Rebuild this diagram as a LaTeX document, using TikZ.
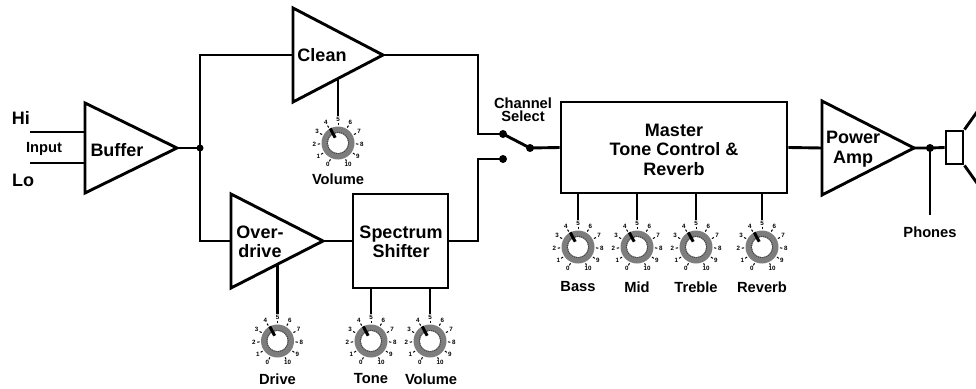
\documentclass[tikz,border=0pt]{standalone}
\usepackage{fontspec}
\setmainfont{Liberation Sans}
\definecolor{knobgray}{RGB}{125,125,125}
\begin{document}
\begin{tikzpicture}[x=1pt,y=-1pt,line width=2.9pt,
  big/.style={font=\fontsize{18}{19.5}\selectfont\bfseries,align=center,inner sep=0pt},
  small/.style={font=\fontsize{14.7}{16}\selectfont\bfseries,align=center,inner sep=0pt},
  jdot/.style={circle,fill=black,draw=none,inner sep=0pt,minimum size=8pt},
  knob/.pic={
    \begin{scope}[y=1pt]
      \fill[knobgray] (0,0) circle (16.5);
      \fill[white] (0,0) circle (10);
      \draw[black!75,line width=1pt,dash pattern=on 1pt off 1.1pt] (0,0) circle (10.7);
      \foreach \n in {0,...,10}{
        \pgfmathsetmacro\a{245-31*\n}
        \draw[line width=1pt] (\a:18) -- (\a:20.3);
        \node[font=\fontsize{6.2}{6}\selectfont\bfseries,inner sep=0pt] (-n\n) at (\a:23.8) {\n};
      }
      \draw[line width=3pt] (118:6) -- (118:16.5);
    \end{scope}
  }]
\useasboundingbox (0,0) rectangle (976,388);

% ---- key coordinates ----
\coordinate (bufL1) at (85,103); \coordinate (bufL2) at (85,193); \coordinate (bufT) at (177,148);
\coordinate (hiIn) at (85,132); \coordinate (hiEnd) at (30,132);
\coordinate (loIn) at (85,163); \coordinate (loEnd) at (30,163);
\coordinate (clL1) at (293,8); \coordinate (clL2) at (293,102); \coordinate (clT) at (383,55);
\coordinate (clIn) at (293,55);
\coordinate (odL1) at (231,194); \coordinate (odL2) at (231,288); \coordinate (odT) at (323,241);
\coordinate (odIn) at (231,241);
\coordinate (paL1) at (822,101); \coordinate (paL2) at (822,195); \coordinate (paT) at (914,148);
\coordinate (paIn) at (822,148);
\coordinate (split) at (200,148);
\coordinate (swA) at (503,134); \coordinate (swB) at (503,159); \coordinate (swC) at (530,148);
\coordinate (ph) at (930,148); \coordinate (phEnd) at (930,215);

% ---- blocks ----
\draw (bufL1) -- (bufL2) -- (bufT) -- cycle;
\draw (clL1) -- (clL2) -- (clT) -- cycle;
\draw (odL1) -- (odL2) -- (odT) -- cycle;
\draw (paL1) -- (paL2) -- (paT) -- cycle;
\node[draw,minimum width=95pt,minimum height=94pt,inner sep=0pt] (spec) at (400.5,241) {};
\node[draw,minimum width=226pt,minimum height=91pt,inner sep=0pt] (master) at (674,147.5) {};
\node[draw,minimum width=17pt,minimum height=33pt,inner sep=0pt] (spk) at (954.5,147.5) {};
\draw (spk.north east) -- ++(27,-38);
\draw (spk.south east) -- ++(27,38);

% ---- labels ----
\node[big] (tbuf) at (117,150) {Buffer};
\node[big] (tclean) at (322,55) {Clean};
\node[big] (tod) at (260,242) {Over-\\drive};
\node[big] (tspec) at (401,242) {Spectrum\\Shifter};
\node[big] (tmaster) at (674,149.5) {Master\\Tone Control \&\\Reverb};
\node[big] (tpa) at (853,149) {Power\\Amp};
\node[big] (thi) at (21,118) {Hi};
\node[big] (tlo) at (23,180) {Lo};
\node[small] (tin) at (44,149) {Input};
\node[small,font=\fontsize{14.7}{13}\selectfont\bfseries] (tcs) at (523,110) {Channel\\Select};
\node[small] (tph) at (930,232) {Phones};

% ---- wiring ----
\draw (hiEnd) -- (hiIn);
\draw (loEnd) -- (loIn);
\draw (bufT) -- (split);
\draw (clIn) -| (split) |- (odIn);
\draw (clT) -| (478,134) -- (swA);
\draw (odT) -- (spec.west);
\draw (spec.east) -| (478,159) -- (swB);
\draw (swA) -- (swC);
\draw (swC) -- (master.west);
\draw (master.east) -- (paIn);
\draw (paT) -- (ph) -- (spk.west);
\draw (ph) -- (phEnd);
\node[jdot,minimum size=7pt] (dsplit) at (split) {};
\node[jdot] (dA) at (swA) {};
\node[jdot] (dB) at (swB) {};
\node[jdot] (dC) at (swC) {};
\node[jdot] (dph) at (ph) {};

% ---- knobs ----
\pic (kcv) at (338,143) {knob};
\pic (kdr) at (277.5,341) {knob};
\pic (kto) at (371,341) {knob};
\pic (ksv) at (430,341) {knob};
\pic (kba) at (578,247) {knob};
\pic (kmi) at (637,247) {knob};
\pic (ktr) at (696,247) {knob};
\pic (krv) at (762,247) {knob};

\draw (338,78.5) -- (kcv-n5.north);
\draw (277.5,264) -- (kdr-n5.north);
\draw (spec.south -| kto-n5.north) -- (kto-n5.north);
\draw (spec.south -| ksv-n5.north) -- (ksv-n5.north);
\draw (master.south -| kba-n5.north) -- (kba-n5.north);
\draw (master.south -| kmi-n5.north) -- (kmi-n5.north);
\draw (master.south -| ktr-n5.north) -- (ktr-n5.north);
\draw (master.south -| krv-n5.north) -- (krv-n5.north);

\node[small] (lcv) at (338,179) {Volume};
\node[small] (ldr) at (277.5,379) {Drive};
\node[small] (lto) at (371,379) {Tone};
\node[small] (lsv) at (431,379) {Volume};
\node[small] (lba) at (578,287) {Bass};
\node[small] (lmi) at (637,287) {Mid};
\node[small] (ltr) at (696,287) {Treble};
\node[small] (lrv) at (762,287) {Reverb};
\end{tikzpicture}
\end{document}
